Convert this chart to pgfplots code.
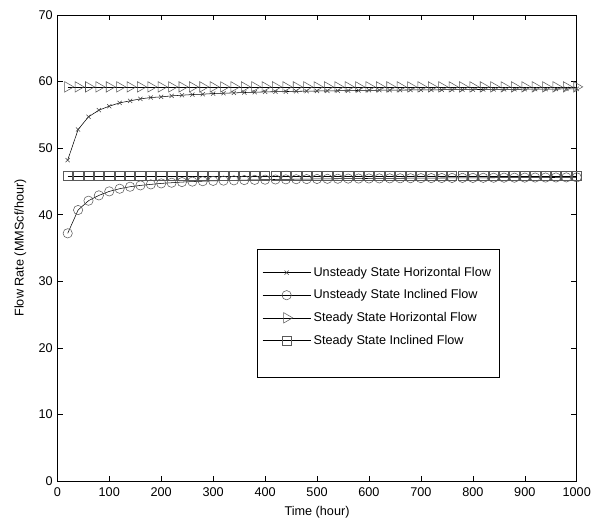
\documentclass[border=0pt]{standalone}
\usepackage{pgfplots}
\usepackage{pgfplotstable}
\pgfplotsset{compat=1.18}
\usepackage{fontspec}
\setmainfont{Liberation Sans}
\pgfplotstableread{
t uh ui sh si
20 48.2 37.2 59.2 45.8
40 52.8 40.7 59.2 45.8
60 54.7 42.1 59.2 45.8
80 55.7 42.9 59.2 45.8
100 56.3 43.5 59.2 45.8
120 56.8 43.9 59.2 45.8
140 57.1 44.2 59.2 45.8
160 57.4 44.4 59.2 45.8
180 57.6 44.55 59.2 45.8
200 57.7 44.7 59.2 45.8
220 57.85 44.8 59.2 45.8
240 57.95 44.9 59.2 45.8
260 58.05 44.97 59.2 45.8
280 58.1 45.03 59.2 45.8
300 58.2 45.08 59.2 45.8
320 58.25 45.12 59.2 45.8
340 58.3 45.16 59.2 45.8
360 58.35 45.2 59.2 45.8
380 58.4 45.23 59.2 45.8
400 58.45 45.26 59.2 45.8
420 58.48 45.29 59.2 45.8
440 58.5 45.31 59.2 45.8
460 58.53 45.33 59.2 45.8
480 58.56 45.35 59.2 45.8
500 58.58 45.37 59.2 45.8
520 58.6 45.39 59.2 45.8
540 58.62 45.4 59.2 45.8
560 58.64 45.42 59.2 45.8
580 58.66 45.43 59.2 45.8
600 58.68 45.44 59.2 45.8
620 58.7 45.45 59.2 45.8
640 58.71 45.46 59.2 45.8
660 58.72 45.47 59.2 45.8
680 58.74 45.48 59.2 45.8
700 58.75 45.49 59.2 45.8
720 58.76 45.5 59.2 45.8
740 58.77 45.51 59.2 45.8
760 58.78 45.52 59.2 45.8
780 58.79 45.53 59.2 45.8
800 58.8 45.53 59.2 45.8
820 58.81 45.54 59.2 45.8
840 58.82 45.55 59.2 45.8
860 58.83 45.56 59.2 45.8
880 58.84 45.56 59.2 45.8
900 58.85 45.57 59.2 45.8
920 58.86 45.58 59.2 45.8
940 58.87 45.58 59.2 45.8
960 58.88 45.59 59.2 45.8
980 58.89 45.6 59.2 45.8
1000 58.9 45.6 59.2 45.8
}\data
\begin{document}
\begin{tikzpicture}
\path[use as bounding box] (-43pt,-32.25pt) rectangle (401.8pt,360.75pt);
\begin{axis}[
  at={(0,0)}, anchor=south west,
  scale only axis,
  width=389.6pt, height=349.5pt,
  xmin=0, xmax=1000, ymin=0, ymax=70,
  xtick distance=100, ytick distance=10,
  tick align=inside,
  tick style={black, line width=0.4pt},
  major tick length=4pt,
  axis line style={line width=0.5pt},
  font=\fontsize{9.5}{11.4}\selectfont,
  ticklabel style={font=\fontsize{9.5}{11.4}\selectfont},
  xticklabel style={yshift=-1.5pt},
  /pgf/number format/assume math mode=true,
  /pgf/number format/1000 sep={},
  xlabel={Time (hour)},
  ylabel={Flow Rate (MMScf/hour)},
  every axis x label/.style={at={(axis description cs:0.5,-0.0667)}, anchor=center},
  every axis y label/.style={at={(axis description cs:-0.0714,0.5)}, rotate=90, anchor=center},
  legend cell align=left,
  legend style={at={(0.384,0.497)}, anchor=north west, draw=black, line width=0.4pt,
    font=\fontsize{9.5}{11.4}\selectfont, row sep=4.6pt, inner xsep=4pt, inner ysep=11pt},
  legend image code/.code={\draw[mark repeat=2,mark phase=2] plot coordinates {(0pt,0pt) (18pt,0pt) (36pt,0pt)};},
  every axis plot/.append style={black, line width=0.4pt},
]
\addplot[mark=x, mark size=2.2pt, mark options={black!75}] table[x=t,y=uh]{\data};
\addlegendentry{Unsteady State Horizontal Flow}
\addplot[mark=o, mark size=3.5pt, mark options={black!65}] table[x=t,y=ui]{\data};
\addlegendentry{Unsteady State Inclined Flow}
\addplot[mark=triangle, mark size=4.5pt, mark options={black!65, rotate=-90}] table[x=t,y=sh]{\data};
\addlegendentry{Steady State Horizontal Flow}
\addplot[mark=square, mark size=3.5pt, mark options={black!65}] table[x=t,y=si]{\data};
\addlegendentry{Steady State Inclined Flow}
\addlegendimage{empty legend}
\addlegendentry{}
\end{axis}
\end{tikzpicture}
\end{document}
